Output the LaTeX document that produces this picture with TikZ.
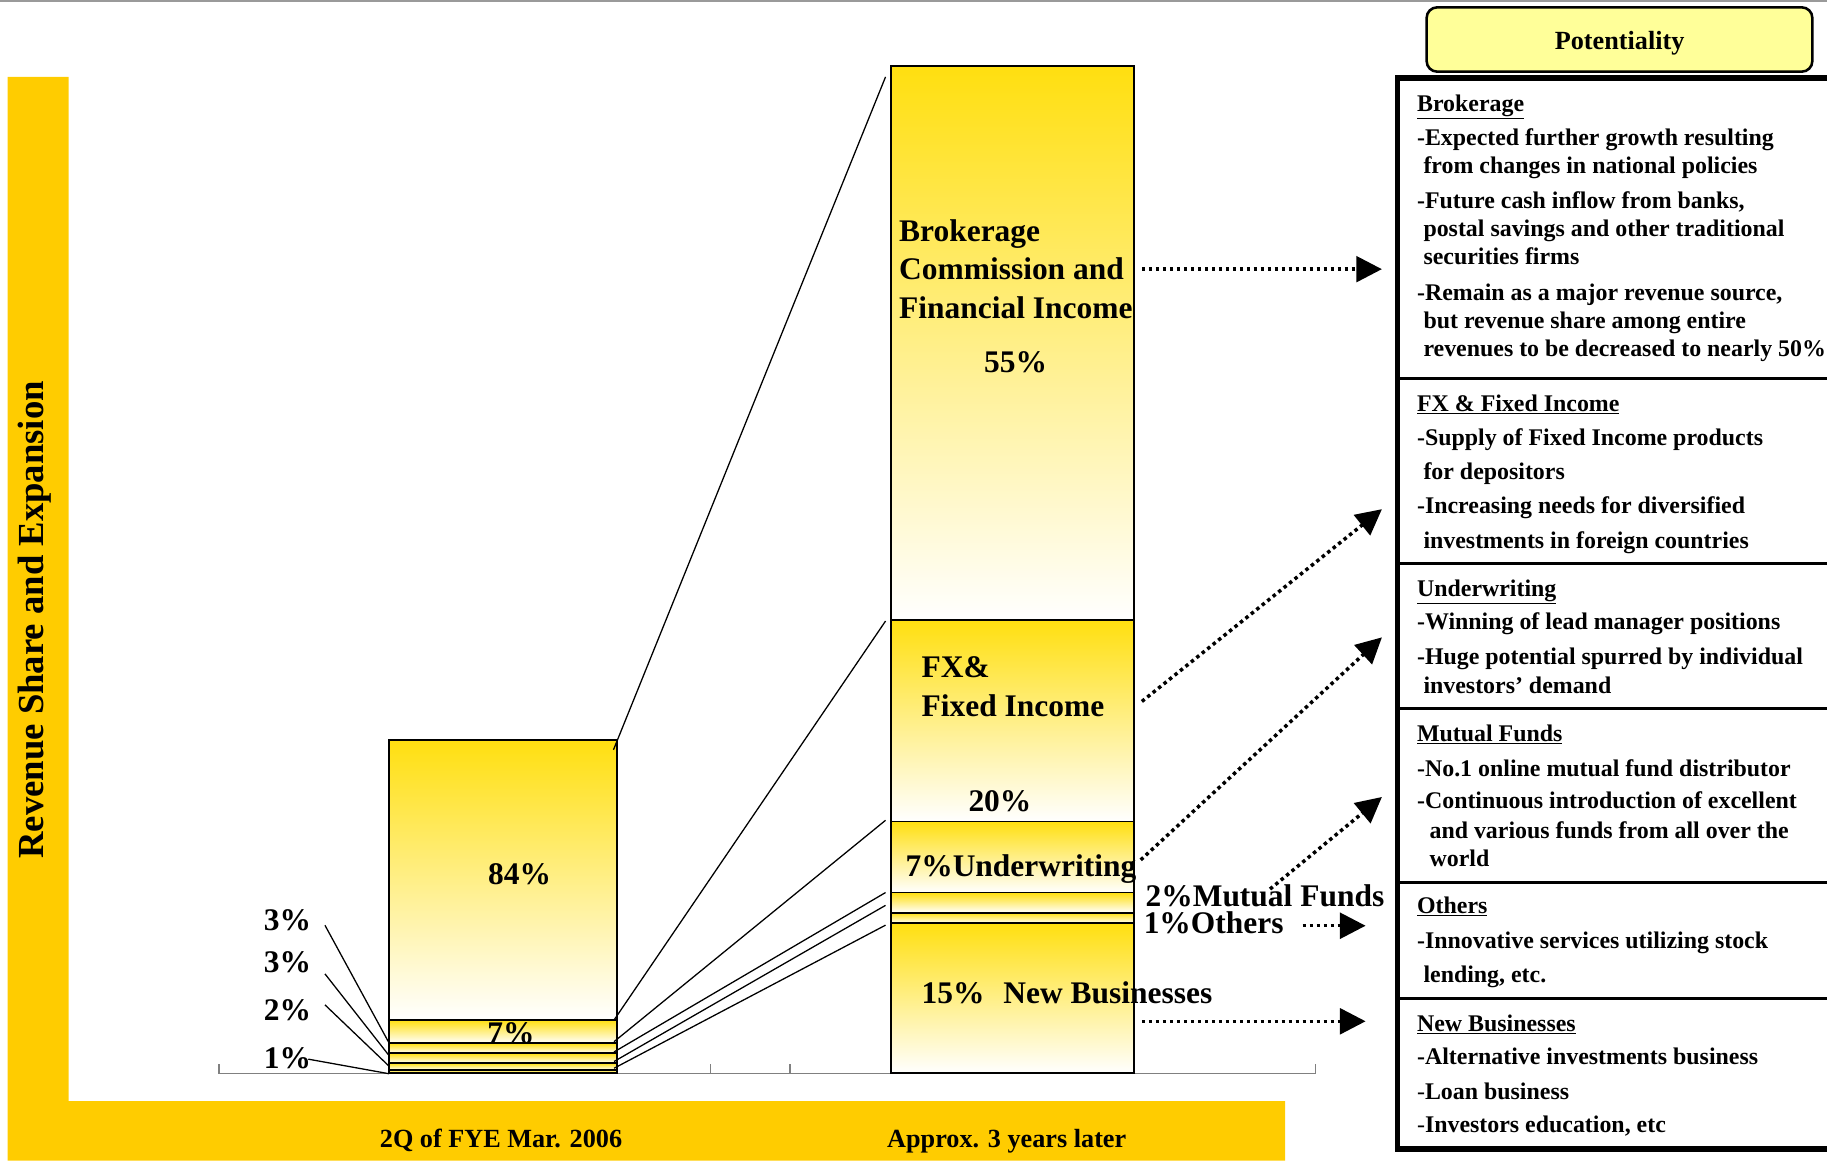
\documentclass[tikz,border=0pt]{standalone}
\usepackage{fontspec}
\setmainfont{Liberation Serif}
\usetikzlibrary{arrows.meta}
\definecolor{frameyellow}{HTML}{FFCC00}
\definecolor{segtop}{HTML}{FFDF10}
\definecolor{potyellow}{HTML}{FFFF99}
\definecolor{axisgray}{HTML}{808080}
\begin{document}
\begin{tikzpicture}[x=1pt,y=-1pt,
  seg/.style={draw=black,line width=1.6pt,top color=segtop,bottom color=white},
  barlbl/.style={font=\bfseries\fontsize{27}{30}\selectfont,inner sep=0,anchor=base west},
  pctlbl/.style={font=\bfseries\fontsize{27}{30}\selectfont,inner sep=0,anchor=base},
  axlbl/.style={font=\bfseries\fontsize{22.5}{26}\selectfont,inner sep=0,anchor=base},
  ptxt/.style={font=\bfseries\fontsize{20.5}{24}\selectfont,inner sep=0,anchor=base west},
  leader/.style={line width=1.1pt},
  darrow/.style={line width=3pt,dash pattern=on 3pt off 3pt,-{Triangle[length=22pt,width=22pt]}},
  divider/.style={line width=2.4pt}
]
\useasboundingbox (0,0) rectangle (1568,996);

% top rule
\draw[axisgray!80,line width=2pt] (0,1) -- (1568,1);

% yellow L-shaped frame
\fill[frameyellow] (6.5,66) -- (59,66) -- (59,945) -- (1103,945) -- (1103,996) -- (6.5,996) -- cycle;
\node[rotate=90,font=\bfseries\fontsize{31.5}{36}\selectfont] (ylabel) at (30,532) {Revenue Share and Expansion};
\node[axlbl] (xlabA) at (430,985) {2Q of FYE Mar. 2006};
\node[axlbl] (xlabB) at (864,985) {Approx. 3 years later};

% axis
\draw[axisgray,line width=1pt] (188,913.5) -- (188,921.4) -- (1129,921.4) -- (1129,913.5);
\draw[axisgray,line width=1pt] (610,913.5) -- (610,921.4);
\draw[axisgray,line width=1pt] (678,913.5) -- (678,921.4);

% left bar (current shares)
\path[seg] (334,635) rectangle (529.5,875.3);
\path[seg] (334,875.3) rectangle (529.5,895.3);
\node[pctlbl] (lp7) at (438.6,895.3) {7\%};
\path[seg] (334,895.3) rectangle (529.5,903.9);
\path[seg] (334,903.9) rectangle (529.5,912.4);
\path[seg] (334,912.4) rectangle (529.5,918.1);
\path[seg] (334,918.1) rectangle (529.5,921);
\node[pctlbl] (lp84) at (446,759.5) {84\%};

% labels of the small left segments
\node[pctlbl] (ll1) at (246.7,798.7) {3\%};
\node[pctlbl] (ll2) at (246.7,834.8) {3\%};
\node[pctlbl] (ll3) at (246.7,876) {2\%};
\node[pctlbl] (ll4) at (246.7,916.8) {1\%};
\coordinate (q1) at (278.9,794.1); \coordinate (p1) at (333.9,895.1);
\coordinate (q2) at (278.9,835.8); \coordinate (p2) at (333.9,905.9);
\coordinate (q3) at (278.9,862.4); \coordinate (p3) at (333.9,915);
\coordinate (q4) at (264.6,909);   \coordinate (p4) at (333.9,921.5);
\foreach \i in {1,...,4} \draw[leader] (q\i) -- (p\i);

% right bar (shares about three years later)
\path[seg] (765,57) rectangle (973,532.2);
\path[seg] (765,532.2) rectangle (973,705);
\path[seg] (765,705) rectangle (973,766);
\path[seg] (765,766) rectangle (973,783.3);
\path[seg] (765,783.3) rectangle (973,792.5);
\path[seg] (765,792.5) rectangle (973,921);

% expansion lines between the bars
\coordinate (l1) at (526.5,643.5); \coordinate (r1) at (760,66);
\coordinate (l2) at (527,875.4);   \coordinate (r2) at (760,533);
\coordinate (l3) at (527,894);     \coordinate (r3) at (760,704);
\coordinate (l4) at (527,902.8);   \coordinate (r4) at (760,766);
\coordinate (l5) at (527,911);     \coordinate (r5) at (760,777);
\coordinate (l6) at (527,916.8);   \coordinate (r6) at (760,794);
\foreach \i in {1,...,6} \draw[leader] (l\i) -- (r\i);

% right bar labels
\node[barlbl] (rb1) at (771.5,207.4) {Brokerage};
\node[barlbl] (rb2) at (771.5,240.3) {Commission and};
\node[barlbl] (rb3) at (771.5,273.2) {Financial Income};
\node[pctlbl] (rp55) at (871.7,319.8) {55\%};
\node[barlbl] (rf1) at (790.8,581.4) {FX\&};
\node[barlbl] (rf2) at (790.8,614.8) {Fixed Income};
\node[pctlbl] (rp20) at (858.2,696.3) {20\%};
\node[barlbl] (ru) at (777,752) {7\%Underwriting};
\node[barlbl] (rm) at (983,777.8) {2\%Mutual Funds};
\node[barlbl] (ro) at (981.4,801.3) {1\%Others};
\node[barlbl] (rn) at (790.8,861.6) {15\%\hspace{0.6em}New Businesses};

% potentiality panel
\path[draw=black,line width=2.2pt,fill=potyellow,rounded corners=9pt] (1224.4,6.3) rectangle (1555.4,61.5);
\node[font=\bfseries\fontsize{22.5}{26}\selectfont,inner sep=0,anchor=base] (pot) at (1390,42.9) {Potentiality};
\draw[line width=4.5pt] (1585,67) -- (1199.5,67) -- (1199.5,986) -- (1585,986);
\foreach \yy in {325,483.5,608.3,757.2,857} \draw[divider] (1199.5,\yy) -- (1585,\yy);

\node[ptxt] (b0) at (1216,95.3) {\underline{Brokerage}};
\node[ptxt] (b1) at (1216,125) {-Expected further growth resulting};
\node[ptxt] (b2) at (1221.5,149.3) {from changes in national policies};
\node[ptxt] (b3) at (1216,178.8) {-Future cash inflow from banks,};
\node[ptxt] (b4) at (1221.5,203) {postal savings and other traditional};
\node[ptxt] (b5) at (1221.5,227.4) {securities firms};
\node[ptxt] (b6) at (1216,257.5) {-Remain as a major revenue source,};
\node[ptxt] (b7) at (1221.5,281.7) {but revenue share among entire};
\node[ptxt] (b8) at (1221.5,306) {revenues to be decreased to nearly 50\%};

\node[ptxt] (f0) at (1216,353) {\underline{FX \& Fixed Income}};
\node[ptxt] (f1) at (1216,382.6) {-Supply of Fixed Income products};
\node[ptxt] (f2) at (1221.5,411.8) {for depositors};
\node[ptxt] (f3) at (1216,440.4) {-Increasing needs for diversified};
\node[ptxt] (f4) at (1221.5,470.4) {investments in foreign countries};

\node[ptxt] (u0) at (1216,511.9) {\underline{Underwriting}};
\node[ptxt] (u1) at (1216,540.4) {-Winning of lead manager positions};
\node[ptxt] (u2) at (1216,570.5) {-Huge potential spurred by individual};
\node[ptxt] (u3) at (1221.5,594.8) {investors' demand};

\node[ptxt] (m0) at (1216,636.3) {\underline{Mutual Funds}};
\node[ptxt] (m1) at (1216,666) {-No.1 online mutual fund distributor};
\node[ptxt] (m2) at (1216,694.3) {-Continuous introduction of excellent};
\node[ptxt] (m3) at (1226.7,719.2) {and various funds from all over the};
\node[ptxt] (m4) at (1226.7,743.5) {world};

\node[ptxt] (o0) at (1216,784.1) {\underline{Others}};
\node[ptxt] (o1) at (1216,814.2) {-Innovative services utilizing stock};
\node[ptxt] (o2) at (1221.5,843) {lending, etc.};

\node[ptxt] (n0) at (1216,885) {\underline{New Businesses}};
\node[ptxt] (n1) at (1216,913.6) {-Alternative investments business};
\node[ptxt] (n2) at (1216,943.7) {\textmd{-}Loan business};
\node[ptxt] (n3) at (1216,972.3) {\textmd{-}Investors education, etc};

% dotted arrows towards the panel
\coordinate (a1s) at (980,231);    \coordinate (a1e) at (1186,231);
\coordinate (a2s) at (980,602);    \coordinate (a2e) at (1186,437);
\coordinate (a3s) at (979,738);    \coordinate (a3e) at (1186,547);
\coordinate (a4s) at (1090,763);   \coordinate (a4e) at (1186,684);
\coordinate (a5s) at (1118,794.5); \coordinate (a5e) at (1172,794.5);
\coordinate (a6s) at (980,876.5);  \coordinate (a6e) at (1172,876.5);
\foreach \i in {1,...,6} \draw[darrow] (a\i s) -- (a\i e);
\end{tikzpicture}
\end{document}
